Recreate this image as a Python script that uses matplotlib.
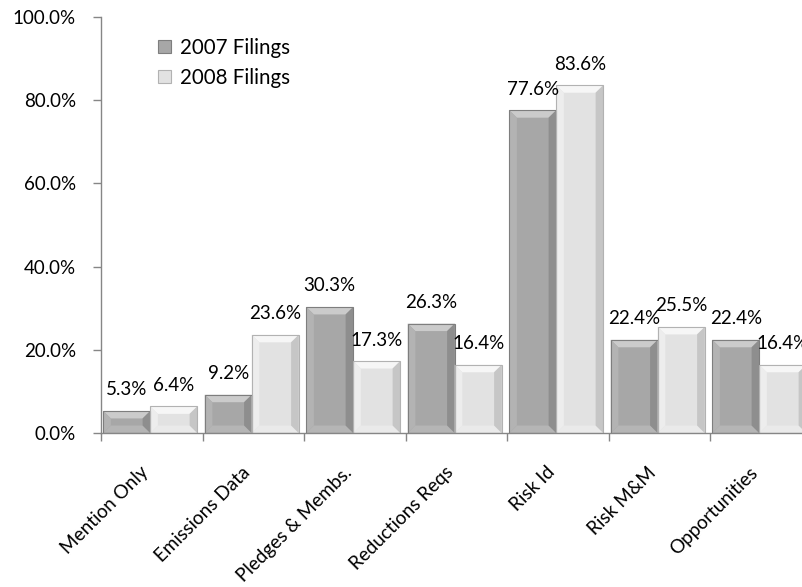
import matplotlib
matplotlib.use("Agg")
import matplotlib.pyplot as plt
from matplotlib.patches import Polygon, Rectangle
from matplotlib.ticker import FuncFormatter, MultipleLocator
import numpy as np

categories = ["Mention Only", "Emissions Data", "Pledges & Membs.", "Reductions Reqs",
              "Risk Id", "Risk M&M", "Opportunities"]
filings_2007 = [5.3, 9.2, 30.3, 26.3, 77.6, 22.4, 22.4]
filings_2008 = [6.4, 23.6, 17.3, 16.4, 83.6, 25.5, 16.4]
series_names = ["2007 Filings", "2008 Filings"]

plt.rcParams["font.family"] = ["Lato", "DejaVu Sans"]
plt.rcParams["font.size"] = 13.5

# base colour, top, bottom, left, right bevel colours, edge
styles = [
    dict(base="#a7a7a7", top="#cbcbcb", bottom="#b5b5b5", left="#b3b3b3", right="#8e8e8e", edge="#7e7e7e"),
    dict(base="#e2e2e2", top="#f6f6f6", bottom="#eaeaea", left="#ededed", right="#c6c6c6", edge="#b2b2b2"),
]

fig = plt.figure(figsize=(8.02, 5.87), dpi=100)
ax = fig.add_axes([101 / 802, 154 / 587, 710.5 / 802, 416 / 587])

x = np.arange(len(categories))
w = 0.463
shift = -0.015
bx = 0.075      # bevel width in data units
by = 1.8        # bevel height in data units (%)


def bevel(ax, rect, st):
    x0 = rect.get_x()
    x1 = x0 + rect.get_width()
    h = rect.get_height()
    polys = [
        ([(x0, h), (x1, h), (x1 - bx, h - by), (x0 + bx, h - by)], st["top"]),
        ([(x0, 0), (x1, 0), (x1 - bx, by), (x0 + bx, by)], st["bottom"]),
        ([(x0, 0), (x0 + bx, by), (x0 + bx, h - by), (x0, h)], st["left"]),
        ([(x1, 0), (x1 - bx, by), (x1 - bx, h - by), (x1, h)], st["right"]),
    ]
    for pts, c in polys:
        ax.add_patch(Polygon(pts, closed=True, facecolor=c, edgecolor="none", zorder=3))
    ax.add_patch(Rectangle((x0, 0), x1 - x0, h, facecolor="none", edgecolor=st["edge"],
                           linewidth=0.8, zorder=4))


for vals, offs, st in [(filings_2007, -w / 2, styles[0]), (filings_2008, w / 2, styles[1])]:
    bars = ax.bar(x + offs + shift, vals, width=w, color=st["base"], edgecolor="none", zorder=2)
    for rect, v in zip(bars, vals):
        bevel(ax, rect, st)
        ax.annotate(f"{v:.1f}%", (rect.get_x() + rect.get_width() / 2, v),
                    xytext=(0, 9), textcoords="offset points", ha="center", va="bottom",
                    fontsize=13.5, clip_on=False, zorder=5)

ax.set_xlim(-0.5, len(categories) - 0.5)
ax.set_ylim(0, 100)
ax.yaxis.set_major_locator(MultipleLocator(20))
ax.yaxis.set_major_formatter(FuncFormatter(lambda v, p: f"{v:.1f}%"))

ax.set_xticks(x)
ax.set_xticklabels(categories, rotation=45, ha="right", va="top", fontsize=13.6)
ax.set_xticks(np.arange(-0.5, len(categories)), minor=True)
ax.tick_params(axis="x", which="major", length=0, pad=22)
ax.tick_params(axis="x", which="minor", length=6, color="#868686", width=1)
ax.tick_params(axis="y", length=6, color="#868686", width=1, pad=12)

for s in ["top", "right"]:
    ax.spines[s].set_visible(False)
for s in ["left", "bottom"]:
    ax.spines[s].set_color("#868686")
    ax.spines[s].set_linewidth(1)
    ax.spines[s].set_zorder(6)

handles = [Rectangle((0, 0), 1, 1, facecolor=st["base"], edgecolor=st["edge"], linewidth=0.8)
           for st in styles]
ax.legend(handles, series_names, loc="upper left", bbox_to_anchor=(0.069, 0.97),
          frameon=False, handlelength=0.6, handleheight=0.6, handletextpad=0.45,
          labelspacing=0.5, fontsize=14.8, borderaxespad=0)

fig.savefig("out.png", dpi=100)
